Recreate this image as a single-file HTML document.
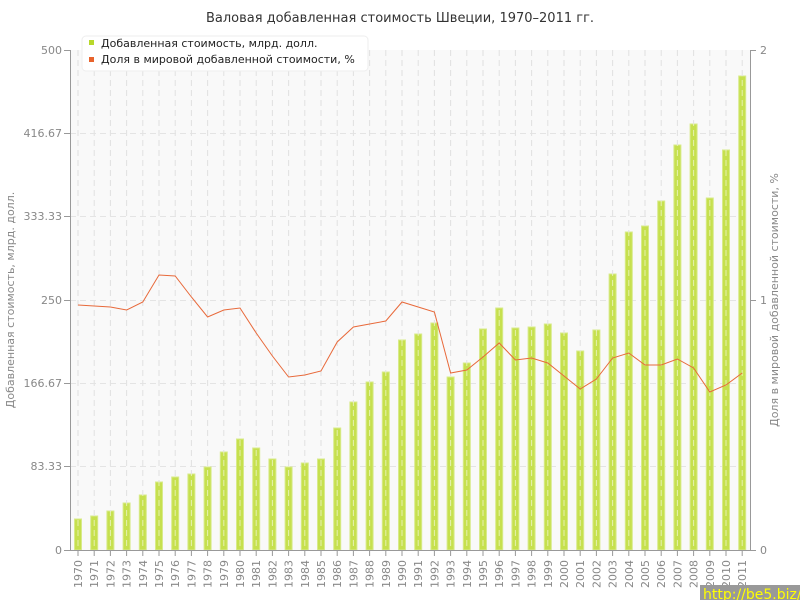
<!DOCTYPE html>
<html><head><meta charset="utf-8"><style>
body{margin:0;background:#fff;}
svg{display:block;font-family:"DejaVu Sans","Liberation Sans",sans-serif;}
</style></head><body>
<svg width="800" height="600" xmlns="http://www.w3.org/2000/svg">
<text x="400" y="22" text-anchor="middle" font-size="13" fill="#333">Валовая добавленная стоимость Швеции, 1970–2011 гг.</text>
<rect x="70" y="50" width="680" height="500" fill="#f9f9f9"/>
<g stroke="#e4e4e4" stroke-dasharray="6,4" stroke-width="1">
<line x1="70" y1="133.5" x2="750" y2="133.5"/><line x1="70" y1="216.5" x2="750" y2="216.5"/><line x1="70" y1="300.5" x2="750" y2="300.5"/><line x1="70" y1="383.5" x2="750" y2="383.5"/><line x1="70" y1="466.5" x2="750" y2="466.5"/>
</g>
<g fill="#c6e04e" stroke="#d8ea8a" stroke-width="1">
<rect x="74.5" y="519" width="7" height="31"/>
<rect x="90.7" y="516" width="7" height="34"/>
<rect x="106.9" y="511" width="7" height="39"/>
<rect x="123.1" y="503" width="7" height="47"/>
<rect x="139.3" y="495" width="7" height="55"/>
<rect x="155.5" y="482" width="7" height="68"/>
<rect x="171.7" y="477" width="7" height="73"/>
<rect x="187.9" y="474" width="7" height="76"/>
<rect x="204.1" y="467" width="7" height="83"/>
<rect x="220.3" y="452" width="7" height="98"/>
<rect x="236.5" y="439" width="7" height="111"/>
<rect x="252.7" y="448" width="7" height="102"/>
<rect x="268.9" y="459" width="7" height="91"/>
<rect x="285.1" y="467" width="7" height="83"/>
<rect x="301.3" y="463" width="7" height="87"/>
<rect x="317.5" y="459" width="7" height="91"/>
<rect x="333.7" y="428" width="7" height="122"/>
<rect x="349.9" y="402" width="7" height="148"/>
<rect x="366.1" y="382" width="7" height="168"/>
<rect x="382.3" y="372" width="7" height="178"/>
<rect x="398.5" y="340" width="7" height="210"/>
<rect x="414.7" y="334" width="7" height="216"/>
<rect x="430.9" y="323" width="7" height="227"/>
<rect x="447.1" y="377" width="7" height="173"/>
<rect x="463.3" y="363" width="7" height="187"/>
<rect x="479.5" y="329" width="7" height="221"/>
<rect x="495.7" y="308" width="7" height="242"/>
<rect x="511.9" y="328" width="7" height="222"/>
<rect x="528.1" y="327" width="7" height="223"/>
<rect x="544.3" y="324" width="7" height="226"/>
<rect x="560.5" y="333" width="7" height="217"/>
<rect x="576.7" y="351" width="7" height="199"/>
<rect x="592.9" y="330" width="7" height="220"/>
<rect x="609.1" y="274" width="7" height="276"/>
<rect x="625.3" y="232" width="7" height="318"/>
<rect x="641.5" y="226" width="7" height="324"/>
<rect x="657.7" y="201" width="7" height="349"/>
<rect x="673.9" y="145" width="7" height="405"/>
<rect x="690.1" y="124" width="7" height="426"/>
<rect x="706.3" y="198" width="7" height="352"/>
<rect x="722.5" y="150" width="7" height="400"/>
<rect x="738.7" y="76" width="7" height="474"/>
</g>
<path stroke="#fff" stroke-opacity="0.55" stroke-dasharray="6,4" fill="none" d="M78 50V550M94.2 50V550M110.4 50V550M126.6 50V550M142.8 50V550M159 50V550M175.2 50V550M191.4 50V550M207.6 50V550M223.8 50V550M240 50V550M256.2 50V550M272.4 50V550M288.6 50V550M304.8 50V550M321 50V550M337.2 50V550M353.4 50V550M369.6 50V550M385.8 50V550M402 50V550M418.2 50V550M434.4 50V550M450.6 50V550M466.8 50V550M483 50V550M499.2 50V550M515.4 50V550M531.6 50V550M547.8 50V550M564 50V550M580.2 50V550M596.4 50V550M612.6 50V550M628.8 50V550M645 50V550M661.2 50V550M677.4 50V550M693.6 50V550M709.8 50V550M726 50V550M742.2 50V550"/>
<path stroke="#e0e0e0" stroke-dasharray="6,4" fill="none" d="M78 50V520M94.2 50V516M110.4 50V511M126.6 50V503M142.8 50V495M159 50V482M175.2 50V477M191.4 50V474M207.6 50V467M223.8 50V452M240 50V439M256.2 50V448M272.4 50V459M288.6 50V467M304.8 50V463M321 50V459M337.2 50V428M353.4 50V402M369.6 50V382M385.8 50V372M402 50V340M418.2 50V334M434.4 50V323M450.6 50V377M466.8 50V363M483 50V329M499.2 50V308M515.4 50V328M531.6 50V327M547.8 50V324M564 50V333M580.2 50V351M596.4 50V330M612.6 50V274M628.8 50V232M645 50V226M661.2 50V201M677.4 50V145M693.6 50V124M709.8 50V198M726 50V150M742.2 50V76"/>
<g stroke="#999" stroke-width="1" fill="none">
<line x1="70.5" y1="50" x2="70.5" y2="550"/><line x1="750.5" y1="50" x2="750.5" y2="550"/><line x1="70" y1="550.5" x2="750" y2="550.5"/>
<line x1="64" y1="50.5" x2="70" y2="50.5"/><line x1="64" y1="133.5" x2="70" y2="133.5"/><line x1="64" y1="216.5" x2="70" y2="216.5"/><line x1="64" y1="300.5" x2="70" y2="300.5"/><line x1="64" y1="383.5" x2="70" y2="383.5"/><line x1="64" y1="466.5" x2="70" y2="466.5"/><line x1="64" y1="550.5" x2="70" y2="550.5"/>
<line x1="750" y1="50.5" x2="756" y2="50.5"/><line x1="750" y1="300.5" x2="756" y2="300.5"/><line x1="750" y1="550.5" x2="756" y2="550.5"/>
<path d="M78 550V556M94.2 550V556M110.4 550V556M126.6 550V556M142.8 550V556M159 550V556M175.2 550V556M191.4 550V556M207.6 550V556M223.8 550V556M240 550V556M256.2 550V556M272.4 550V556M288.6 550V556M304.8 550V556M321 550V556M337.2 550V556M353.4 550V556M369.6 550V556M385.8 550V556M402 550V556M418.2 550V556M434.4 550V556M450.6 550V556M466.8 550V556M483 550V556M499.2 550V556M515.4 550V556M531.6 550V556M547.8 550V556M564 550V556M580.2 550V556M596.4 550V556M612.6 550V556M628.8 550V556M645 550V556M661.2 550V556M677.4 550V556M693.6 550V556M709.8 550V556M726 550V556M742.2 550V556"/>
</g>
<g font-size="11" fill="#888" text-anchor="end">
<text x="62" y="54">500</text><text x="62" y="137">416.67</text><text x="62" y="220">333.33</text><text x="62" y="304">250</text><text x="62" y="387">166.67</text><text x="62" y="470">83.33</text><text x="62" y="554">0</text>
</g>
<g font-size="11" fill="#888"><text x="760" y="54">2</text><text x="760" y="304">1</text><text x="760" y="554">0</text></g>
<text transform="translate(14,300) rotate(-90)" text-anchor="middle" font-size="11" fill="#888">Добавленная стоимость, млрд. долл.</text>
<text transform="translate(778,300) rotate(-90)" text-anchor="middle" font-size="11" fill="#888">Доля в мировой добавленной стоимости, %</text>
<polyline fill="none" stroke="#e8693a" stroke-width="1" points="78,305 94.2,306 110.4,307 126.6,310 142.8,302 159,275 175.2,276 191.4,297 207.6,317 223.8,310 240,308 256.2,333 272.4,356 288.6,377 304.8,375 321,371 337.2,342 353.4,327 369.6,324 385.8,321 402,302 418.2,307 434.4,312 450.6,373 466.8,370 483,357 499.2,343 515.4,360 531.6,358 547.8,363 564,376 580.2,389 596.4,379 612.6,358 628.8,353 645,365 661.2,365 677.4,359 693.6,368 709.8,392 726,385 742.2,373"/>
<g font-size="11" fill="#888" text-anchor="end">
<text transform="translate(82,560) rotate(-90)">1970</text>
<text transform="translate(98.2,560) rotate(-90)">1971</text>
<text transform="translate(114.4,560) rotate(-90)">1972</text>
<text transform="translate(130.6,560) rotate(-90)">1973</text>
<text transform="translate(146.8,560) rotate(-90)">1974</text>
<text transform="translate(163,560) rotate(-90)">1975</text>
<text transform="translate(179.2,560) rotate(-90)">1976</text>
<text transform="translate(195.4,560) rotate(-90)">1977</text>
<text transform="translate(211.6,560) rotate(-90)">1978</text>
<text transform="translate(227.8,560) rotate(-90)">1979</text>
<text transform="translate(244,560) rotate(-90)">1980</text>
<text transform="translate(260.2,560) rotate(-90)">1981</text>
<text transform="translate(276.4,560) rotate(-90)">1982</text>
<text transform="translate(292.6,560) rotate(-90)">1983</text>
<text transform="translate(308.8,560) rotate(-90)">1984</text>
<text transform="translate(325,560) rotate(-90)">1985</text>
<text transform="translate(341.2,560) rotate(-90)">1986</text>
<text transform="translate(357.4,560) rotate(-90)">1987</text>
<text transform="translate(373.6,560) rotate(-90)">1988</text>
<text transform="translate(389.8,560) rotate(-90)">1989</text>
<text transform="translate(406,560) rotate(-90)">1990</text>
<text transform="translate(422.2,560) rotate(-90)">1991</text>
<text transform="translate(438.4,560) rotate(-90)">1992</text>
<text transform="translate(454.6,560) rotate(-90)">1993</text>
<text transform="translate(470.8,560) rotate(-90)">1994</text>
<text transform="translate(487,560) rotate(-90)">1995</text>
<text transform="translate(503.2,560) rotate(-90)">1996</text>
<text transform="translate(519.4,560) rotate(-90)">1997</text>
<text transform="translate(535.6,560) rotate(-90)">1998</text>
<text transform="translate(551.8,560) rotate(-90)">1999</text>
<text transform="translate(568,560) rotate(-90)">2000</text>
<text transform="translate(584.2,560) rotate(-90)">2001</text>
<text transform="translate(600.4,560) rotate(-90)">2002</text>
<text transform="translate(616.6,560) rotate(-90)">2003</text>
<text transform="translate(632.8,560) rotate(-90)">2004</text>
<text transform="translate(649,560) rotate(-90)">2005</text>
<text transform="translate(665.2,560) rotate(-90)">2006</text>
<text transform="translate(681.4,560) rotate(-90)">2007</text>
<text transform="translate(697.6,560) rotate(-90)">2008</text>
<text transform="translate(713.8,560) rotate(-90)">2009</text>
<text transform="translate(730,560) rotate(-90)">2010</text>
<text transform="translate(746.2,560) rotate(-90)">2011</text>
</g>
<rect x="82" y="36" width="286" height="35" rx="4" fill="#fff" stroke="#eee"/>
<rect x="89" y="40" width="5" height="5" fill="#b8d82a"/>
<text x="101" y="47" font-size="11" fill="#222">Добавленная стоимость, млрд. долл.</text>
<rect x="89" y="57" width="5" height="5" fill="#e8632c"/>
<text x="101" y="63" font-size="11" fill="#222">Доля в мировой добавленной стоимости, %</text>
<rect x="700" y="585" width="100" height="15" fill="#999"/>
<text x="703" y="599" font-size="14" fill="#ff0">http://be5.biz/</text>
</svg>
</body></html>
